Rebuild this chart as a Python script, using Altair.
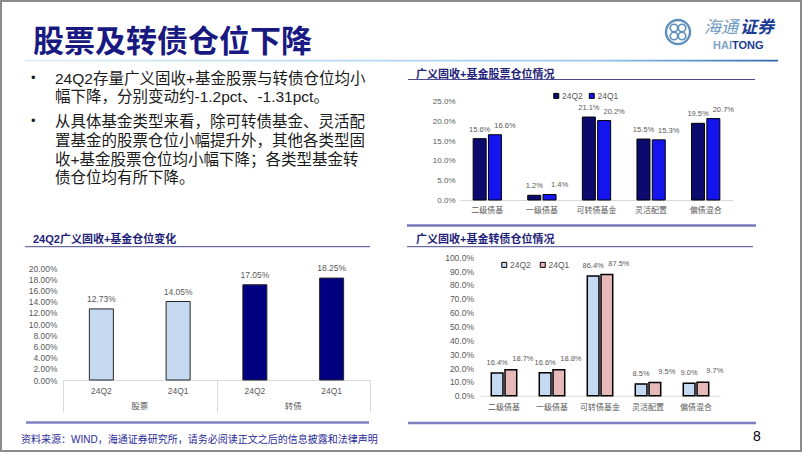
import altair as alt
import pandas as pd

# ---------------- data ----------------
categories = ["二级债基", "一级债基", "可转债基金", "灵活配置", "偏债混合"]
quarters = ["24Q2", "24Q1"]
stock_24q2 = [0.156, 0.012, 0.211, 0.155, 0.195]
stock_24q1 = [0.166, 0.014, 0.202, 0.153, 0.207]
cb_24q2 = [0.164, 0.166, 0.864, 0.085, 0.090]
cb_24q1 = [0.187, 0.188, 0.875, 0.095, 0.097]

overall_groups = ["股票", "股票", "转债", "转债"]
overall_quarters = ["24Q2", "24Q1", "24Q2", "24Q1"]
overall_values = [0.1273, 0.1405, 0.1705, 0.1825]
group_names = ["股票", "转债"]

stock_ticks = [0.0, 0.05, 0.10, 0.15, 0.20, 0.25]
cb_ticks = [0.0, 0.1, 0.2, 0.3, 0.4, 0.5, 0.6, 0.7, 0.8, 0.9, 1.0]
overall_ticks = [0.0, 0.02, 0.04, 0.06, 0.08, 0.10, 0.12, 0.14, 0.16, 0.18, 0.20]

title_text = "股票及转债仓位下降"
bullet1 = ["24Q2存量广义固收+基金股票与转债仓位均小", "幅下降，分别变动约-1.2pct、-1.31pct。"]
bullet2 = ["从具体基金类型来看，除可转债基金、灵活配", "置基金的股票仓位小幅提升外，其他各类型固",
           "收+基金股票仓位均小幅下降；各类型基金转", "债仓位均有所下降。"]
chart1_title = "广义固收+基金股票仓位情况"
chart2_title = "24Q2广义固收+基金仓位变化"
chart3_title = "广义固收+基金转债仓位情况"
footer_text = "资料来源：WIND，海通证券研究所，请务必阅读正文之后的信息披露和法律声明"
page_no = "8"

# ---------------- styling ----------------
W, H = 802, 452
LAT = "Liberation Sans, Noto Sans CJK SC"
CJK = "Noto Sans CJK SC"
GRAY = "#595959"
NAVY = "#1F1F7A"

one = pd.DataFrame({"k": [0]})


def txt(s, x, y, size, color, weight="normal", align="left", font=LAT, style="normal"):
    return alt.Chart(one).mark_text(
        text=s, fontSize=size, color=color, fontWeight=weight, align=align,
        baseline="middle", font=font, fontStyle=style
    ).encode(x=alt.value(x), y=alt.value(y))


def hline(x1, x2, y, color, width):
    return alt.Chart(one).mark_rule(color=color, strokeWidth=width).encode(
        x=alt.value(x1), x2=alt.value(x2), y=alt.value(y))


def ring(x, y, d, color, width):
    return alt.Chart(one).mark_point(shape="circle", filled=False, size=d * d,
                                     stroke=color, strokeWidth=width, opacity=1).encode(
        x=alt.value(x), y=alt.value(y))


def grouped(df, x_rng, pin, opin, y_rng, y_dom, y_ticks, y_axis_x, x_axis_y, x_lab_pad,
            colors, stroke_w, leg_x, leg_y, leg_gap, dx1, dy2, dy1, ylab_size):
    X = alt.X("cat:N", sort=categories, title=None,
              scale=alt.Scale(domain=categories, range=x_rng, paddingInner=pin, paddingOuter=pin / 2),
              axis=alt.Axis(orient="bottom", offset=x_axis_y - H, labelAngle=0, labelFont=CJK,
                            labelFontSize=8, labelColor=GRAY, labelPadding=x_lab_pad, ticks=False,
                            tickSize=0, domainColor="#D9D9D9", domainWidth=1, grid=False))
    Y = alt.Y("v:Q", title=None,
              scale=alt.Scale(domain=y_dom, range=y_rng, nice=False, zero=True),
              axis=alt.Axis(orient="left", offset=-y_axis_x, values=y_ticks, format=".1%",
                            labelFont=LAT, labelFontSize=ylab_size, labelColor=GRAY, labelPadding=0,
                            ticks=False, tickSize=0, domain=False, grid=False))
    XO = alt.XOffset("q:N", sort=quarters,
                     scale=alt.Scale(domain=quarters, paddingInner=opin, paddingOuter=0))
    C = alt.Color("q:N", sort=quarters, scale=alt.Scale(domain=quarters, range=colors),
                  legend=alt.Legend(orient="none", legendX=leg_x, legendY=leg_y, direction="horizontal",
                                    title=None, symbolType="square", symbolSize=25,
                                    symbolStrokeColor="#000", symbolStrokeWidth=1,
                                    labelFont=LAT, labelFontSize=8.5, labelColor=GRAY,
                                    labelOffset=1.5, columnPadding=leg_gap, padding=0, rowPadding=0))
    base = alt.Chart(df).encode(x=X, y=Y, xOffset=XO)
    bars = base.mark_bar(stroke="#000", strokeWidth=stroke_w).encode(color=C)
    t2 = base.transform_filter(alt.datum.q == "24Q2").mark_text(
        dy=dy2, fontSize=7.5, font=LAT, color=GRAY, baseline="middle").encode(
        text=alt.Text("v:Q", format=".1%"))
    t1 = base.transform_filter(alt.datum.q == "24Q1").mark_text(
        dx=dx1, dy=dy1, fontSize=7.5, font=LAT, color=GRAY, baseline="middle").encode(
        text=alt.Text("v:Q", format=".1%"))
    return alt.layer(bars, t2, t1)


stock_df = pd.DataFrame({"cat": categories * 2, "q": ["24Q2"] * 5 + ["24Q1"] * 5,
                         "v": stock_24q2 + stock_24q1})
cb_df = pd.DataFrame({"cat": categories * 2, "q": ["24Q2"] * 5 + ["24Q1"] * 5,
                      "v": cb_24q2 + cb_24q1})
keys = [g + "|" + q for g, q in zip(overall_groups, overall_quarters)]
ov_df = pd.DataFrame({"key": keys, "grp": overall_groups, "q": overall_quarters, "v": overall_values})
grp_df = pd.DataFrame({"grp": group_names})

chart1 = grouped(stock_df, [460, 733], 0.482, 0.15, [200, 101.7], [0, 0.25], stock_ticks,
                 455, 200, 6.5, ["#0B0B6F", "#1414EE"], 1, 552, 91.5, 3.5, 10, -9, -9, 8)
chart3 = grouped(cb_df, [480, 720], 0.47, 0.146, [395.7, 257.3], [0, 1.0], cb_ticks,
                 473.5, 395.7, 7.5, ["#C5D9F1", "#E6B9B8"], 1.5, 500, 260.5, 6.5, 12, -10, -11, 8.5)

# chart 2: overall positions
X2 = alt.X("key:N", sort=keys, title=None,
           scale=alt.Scale(domain=keys, range=[63, 370], paddingInner=0.687, paddingOuter=0.3435),
           axis=alt.Axis(orient="bottom", offset=380 - H, labelAngle=0, labelFont=LAT, labelFontSize=8.5,
                         labelColor=GRAY, labelPadding=6.3, ticks=False, tickSize=0,
                         labelExpr="split(datum.label, '|')[1]",
                         domainColor="#D9D9D9", domainWidth=1, grid=False))
Y2 = alt.Y("v:Q", title=None, scale=alt.Scale(domain=[0, 0.2], range=[380, 268.3], nice=False),
           axis=alt.Axis(orient="left", offset=-57, values=overall_ticks, format=".2%", labelFont=LAT,
                         labelFontSize=8.5, labelColor=GRAY, labelPadding=0, ticks=False, tickSize=0,
                         domain=False, grid=False))
base2 = alt.Chart(ov_df).encode(x=X2, y=Y2)
bars2 = base2.mark_bar(stroke="#262626", strokeWidth=1).encode(
    color=alt.Color("grp:N", scale=alt.Scale(domain=group_names, range=["#C5D9F1", "#000080"]), legend=None))
text2 = base2.mark_text(dy=-10, fontSize=8.5, font=LAT, color=GRAY, baseline="middle").encode(
    text=alt.Text("v:Q", format=".2%"))
chart2 = alt.layer(bars2, text2)

groups2 = alt.Chart(grp_df).mark_text(fontSize=8.5, font=CJK, color=GRAY, baseline="middle").encode(
    x=alt.X("grp:N", sort=group_names, title=None,
            scale=alt.Scale(domain=group_names, range=[63, 370], paddingInner=0, paddingOuter=0),
            axis=alt.Axis(orient="bottom", offset=380 - H, labels=False, ticks=True, tickBand="extent",
                          tickSize=32, tickColor="#D9D9D9", tickWidth=1, domain=False, grid=False)),
    y=alt.value(405.5),
    text="grp:N")

# ---------------- decorations ----------------
frame = alt.Chart(one).mark_rect(fillOpacity=0, stroke="#8C8C8C", strokeWidth=2).encode(
    x=alt.value(1), x2=alt.value(801), y=alt.value(1), y2=alt.value(451))
header_line = alt.Chart(one).mark_rect(
    fill={"gradient": "linear", "x1": 0, "x2": 1, "y1": 0, "y2": 0,
          "stops": [{"offset": 0, "color": "#DCEFFA"}, {"offset": 0.75, "color": "#9CC8EC"},
                    {"offset": 1, "color": "#2A68B0"}]}).encode(
    x=alt.value(25), x2=alt.value(778), y=alt.value(59.8), y2=alt.value(61.4))

deco = [
    frame, header_line,
    txt(title_text, 33, 42.5, 31, "#191982", weight="bold", font=CJK),
    # logo
    ring(678, 32, 24, "#5F8FBA", 2.4),
    ring(674, 28, 7.5, "#5F8FBA", 1.7), ring(682, 28, 7.5, "#5F8FBA", 1.7),
    ring(674, 36, 7.5, "#5F8FBA", 1.7), ring(682, 36, 7.5, "#5F8FBA", 1.7),
    txt("海通", 704, 28, 17, "#6E9BC4", font=CJK, style="italic"),
    txt("证券", 740, 28, 17, "#1B3C94", weight="bold", font=CJK, style="italic"),
    txt("HAI", 713, 46, 11, "#7F9FBF", weight="bold"),
    txt("TONG", 732, 46, 11, "#1B3C94", weight="bold"),
    # bullets
    txt("•", 31, 78, 13, "#1a1a1a"),
    txt(bullet1[0], 55, 79, 15.5, "#1a1a1a"),
    txt(bullet1[1], 55, 96.7, 15.5, "#1a1a1a"),
    txt("•", 31, 121, 13, "#1a1a1a"),
    txt(bullet2[0], 55, 121.7, 15.5, "#1a1a1a"),
    txt(bullet2[1], 55, 141, 15.5, "#1a1a1a"),
    txt(bullet2[2], 55, 160, 15.5, "#1a1a1a"),
    txt(bullet2[3], 55, 178.3, 15.5, "#1a1a1a"),
    # panel titles and lines
    txt(chart1_title, 416, 74.5, 11, NAVY, weight="bold"),
    hline(408, 755, 79.5, "#4B4B8F", 1),
    hline(407, 756, 225.5, "#7777B8", 2.5),
    txt(chart2_title, 33, 240, 11, NAVY, weight="bold"),
    hline(25, 370, 246.7, "#4B4B8F", 1),
    hline(26, 369, 422.5, "#8080C0", 2.5),
    txt(chart3_title, 416, 240, 11, NAVY, weight="bold"),
    hline(407, 753, 246.7, "#4B4B8F", 1),
    hline(408, 756, 423, "#8080C0", 2.5),
    # footer
    txt(footer_text, 21, 440, 10, "#2A2A9A", font=LAT),
    txt(page_no, 757, 437, 14, "#000000", align="center"),
]

chart = alt.layer(*deco, chart1, chart2, groups2, chart3).resolve_scale(
    x="independent", y="independent", color="independent", xOffset="independent"
).resolve_axis(x="independent", y="independent").resolve_legend(color="independent").properties(
    width=W, height=H, autosize=alt.AutoSizeParams(type="none"), padding=0, background="white"
).configure_view(strokeWidth=0)

chart.save("out.html", embed_options={"renderer": "svg", "actions": False})
